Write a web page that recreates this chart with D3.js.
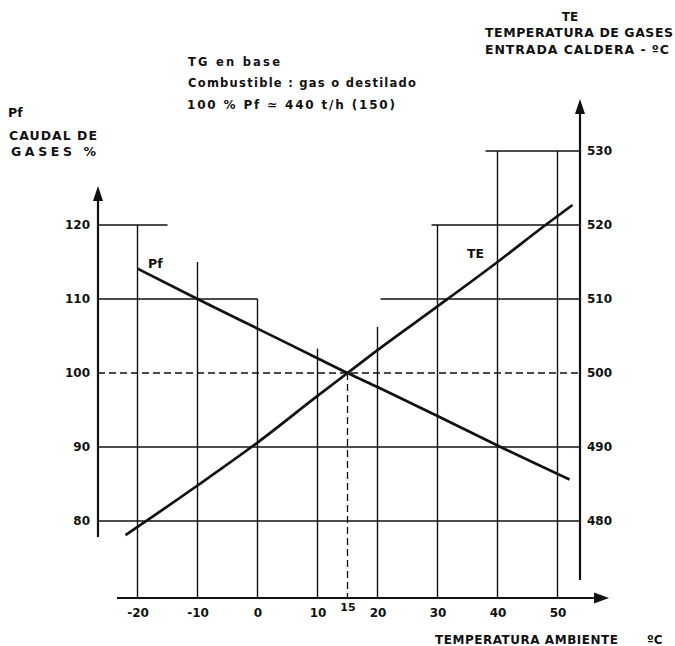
<!DOCTYPE html>
<html>
<head>
<meta charset="utf-8">
<script src="https://cdn.jsdelivr.net/npm/d3@7"></script>
<style>
  body { margin: 0; background: #fff; }
  svg text { font-family: 'DejaVu Sans', Arial, sans-serif; font-weight: bold; fill: #111; }
</style>
</head>
<body>
<svg width="675" height="646"></svg>
<script>
// ---- data ----
const tempTicks = [-20, -10, 0, 10, 15, 20, 30, 40, 50];
const pfTicks = [80, 90, 100, 110, 120];
const teTicks = [480, 490, 500, 510, 520, 530];

// Pf - caudal de gases (%)
const pfTemp = [-20, -10, 0, 10, 15, 20, 30, 40, 52];
const pfValues = [114.1, 110, 106, 102, 100, 98.1, 94.2, 90.2, 85.6];

// TE - temperatura de gases entrada caldera (ºC)
const teTemp = [-22, -20, -10, 0, 10, 15, 20, 30, 40, 48, 52.5];
const teValues = [478.1, 479.2, 484.8, 490.6, 496.9, 500, 503.1, 509, 515, 520, 522.7];

// grid pieces (as drawn on the original sheet)
const vGridTemp = [-20, -10, 0, 10, 20, 30, 40, 50];
const vGridTop = [120, 115, 110, 103.3, 106.2, 120, 130, 130]; // in Pf units
const hGridPf = [120, 110, 90, 80];
const hGridPfEnd = [-15, 0, null, null]; // null = to right axis
const hGridTe = [530, 520, 510];
const hGridTeStart = [38, 29, 20.5];

const svg = d3.select('svg');

const x = d3.scaleLinear().domain([-20, 50]).range([137.5, 557.5]);
const y = d3.scaleLinear().domain([80, 120]).range([521, 225]);
const y2 = d3.scaleLinear().domain([480, 520]).range([521, 225]);

const leftX = 98;
const rightX = 580;
const baseY = 598;

const ink = '#111';

// horizontal grid, left scale
hGridPf.forEach((v, i) => {
  const end = hGridPfEnd[i] === null ? rightX : x(hGridPfEnd[i]);
  svg.append('line')
    .attr('x1', leftX).attr('x2', end)
    .attr('y1', y(v)).attr('y2', y(v))
    .attr('stroke', ink).attr('stroke-width', 1.4);
});

// horizontal grid, right scale
hGridTe.forEach((v, i) => {
  svg.append('line')
    .attr('x1', x(hGridTeStart[i])).attr('x2', rightX)
    .attr('y1', y2(v)).attr('y2', y2(v))
    .attr('stroke', ink).attr('stroke-width', 1.4);
});

// dashed reference at 100 % / 500 ºC
svg.append('line')
  .attr('x1', leftX).attr('x2', rightX)
  .attr('y1', y(100)).attr('y2', y(100))
  .attr('stroke', ink).attr('stroke-width', 1.5)
  .attr('stroke-dasharray', '7,4');

// vertical grid
vGridTemp.forEach((t, i) => {
  svg.append('line')
    .attr('x1', x(t)).attr('x2', x(t))
    .attr('y1', y(vGridTop[i])).attr('y2', baseY)
    .attr('stroke', ink).attr('stroke-width', 1.4);
});

// dashed 15 ºC
svg.append('line')
  .attr('x1', x(15)).attr('x2', x(15))
  .attr('y1', y(100)).attr('y2', baseY)
  .attr('stroke', ink).attr('stroke-width', 1.3)
  .attr('stroke-dasharray', '7,4');

// axes lines + arrows
const arrow = (pts) => svg.append('path')
  .attr('d', 'M' + pts.join('L') + 'Z')
  .attr('fill', ink);

svg.append('line').attr('x1', leftX).attr('x2', leftX).attr('y1', 537).attr('y2', 195)
  .attr('stroke', ink).attr('stroke-width', 2.2);
arrow([[leftX, 186], [leftX - 5, 201], [leftX + 5, 201]]);

svg.append('line').attr('x1', rightX).attr('x2', rightX).attr('y1', 580).attr('y2', 108)
  .attr('stroke', ink).attr('stroke-width', 2.2);
arrow([[rightX, 99], [rightX - 5, 114], [rightX + 5, 114]]);

svg.append('line').attr('x1', 117).attr('x2', 600).attr('y1', baseY).attr('y2', baseY)
  .attr('stroke', ink).attr('stroke-width', 2.2);
arrow([[609, baseY], [594, baseY - 5.5], [594, baseY + 5.5]]);

// curves
const pfLine = d3.line().curve(d3.curveMonotoneX).x(d => x(d[0])).y(d => y(d[1]));
svg.append('path')
  .datum(pfTemp.map((t, i) => [t, pfValues[i]]))
  .attr('d', pfLine)
  .attr('fill', 'none').attr('stroke', ink).attr('stroke-width', 2.7);

const teLine = d3.line().curve(d3.curveMonotoneX).x(d => x(d[0])).y(d => y2(d[1]));
svg.append('path')
  .datum(teTemp.map((t, i) => [t, teValues[i]]))
  .attr('d', teLine)
  .attr('fill', 'none').attr('stroke', ink).attr('stroke-width', 2.7);

// tick labels via d3 axes
const styleAxis = (g) => {
  g.select('.domain').remove();
  g.selectAll('text')
    .attr('font-family', "'Liberation Sans', Arial, sans-serif")
    .attr('font-weight', 'bold')
    .attr('font-size', 12)
    .attr('fill', ink);
};

svg.append('g')
  .attr('transform', `translate(${leftX},0)`)
  .call(d3.axisLeft(y).tickValues(pfTicks).tickSize(0).tickPadding(8))
  .call(styleAxis);

svg.append('g')
  .attr('transform', `translate(${rightX},0)`)
  .call(d3.axisRight(y2).tickValues(teTicks).tickSize(0).tickPadding(7))
  .call(styleAxis);

const xAxisG = svg.append('g')
  .attr('transform', `translate(0,${baseY})`)
  .call(d3.axisBottom(x).tickValues(tempTicks).tickSize(0).tickPadding(10)
    .tickFormat(d => String(d)))
  .call(styleAxis);
xAxisG.selectAll('.tick')
  .filter(d => d === 15)
  .select('text')
  .attr('dy', '0.25em')
  .attr('font-size', 11);

// text blocks
const label = (txt, tx, ty, opts = {}) => {
  const t = svg.append('text')
    .attr('x', tx).attr('y', ty)
    .attr('font-size', opts.size || 12)
    .attr('text-anchor', opts.anchor || 'start')
    .text(txt);
  if (opts.len) t.attr('textLength', opts.len).attr('lengthAdjust', 'spacing');
  return t;
};

label('TE', 570, 21, { anchor: 'middle', size: 12 });
label('TEMPERATURA DE GASES', 485, 37, { size: 12.5, len: 188 });
label('ENTRADA  CALDERA  -  ºC', 485, 54, { size: 12.5, len: 184 });

label('TG   en  base', 188, 66, { size: 11.5, len: 92 });
label('Combustible :    gas  o  destilado', 188, 87, { size: 11.5, len: 228 });
label('100 %  Pf ≃  440  t/h  (150)', 187, 109, { size: 12, len: 208 });

label('Pf', 8, 117, { size: 12.5 });
label('CAUDAL  DE', 9, 140, { size: 12.5, len: 88 });
label('GASES    %', 11, 156, { size: 12.5, len: 85 });

label('Pf', 148, 268, { size: 12.5 });
label('TE', 467, 258, { size: 12.5 });

label('TEMPERATURA  AMBIENTE', 435, 644, { size: 12, len: 183 });
label('ºC', 647, 644, { size: 12 });
</script>
</body>
</html>
